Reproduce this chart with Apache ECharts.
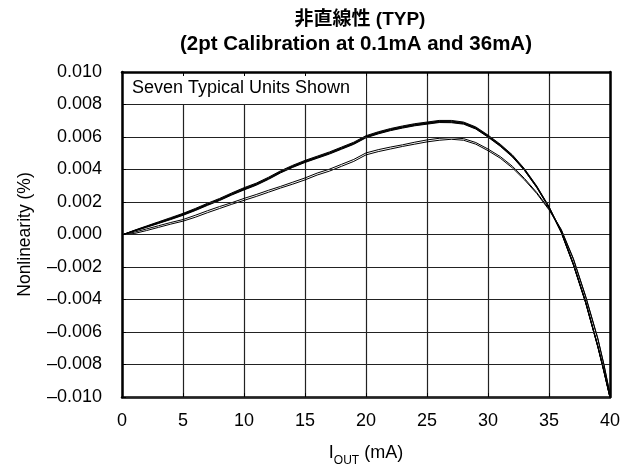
<!DOCTYPE html>
<html>
<head>
<meta charset="utf-8">
<script src="https://cdn.jsdelivr.net/npm/echarts@6/dist/echarts.min.js"></script>
<style>
  html, body { margin: 0; padding: 0; background: #fff; }
  #chart { width: 623px; height: 472px; }
</style>
</head>
<body>
<div id="chart"></div>
<script>
// Output current (mA) at which each unit was measured
const currentMA = [0.1, 1, 2, 3, 4, 5, 6, 7, 8, 9, 10,
  11, 12, 13, 14, 15, 16, 17, 18, 19, 20,
  21, 22, 23, 24, 25, 26, 27, 28, 29, 30,
  31, 32, 33, 34, 35, 36, 37, 38, 39, 39.5, 40];

// Nonlinearity of each unit, in units of 0.001 %
const unitA = [0, 0.26, 0.52, 0.78, 1.04, 1.30, 1.60, 1.92, 2.22, 2.56, 2.88,
  3.16, 3.52, 3.92, 4.26, 4.56, 4.82, 5.08, 5.38, 5.68, 6.08,
  6.32, 6.52, 6.68, 6.82, 6.92, 7.02, 7.02, 6.92, 6.62, 6.12,
  5.56, 4.90, 4.04, 2.98, 1.72, 0.20, -1.80, -4.12, -6.84, -8.36, -10.00];
const unitB = [0, 0.24, 0.50, 0.75, 1.00, 1.27, 1.56, 1.88, 2.18, 2.52, 2.84,
  3.12, 3.48, 3.88, 4.22, 4.52, 4.78, 5.04, 5.34, 5.64, 6.04,
  6.28, 6.48, 6.64, 6.78, 6.88, 6.98, 6.98, 6.88, 6.58, 6.08,
  5.52, 4.86, 4.00, 2.95, 1.70, 0.18, -1.82, -4.14, -6.86, -8.38, -10.00];
const unitC = [0, 0.23, 0.48, 0.72, 0.97, 1.24, 1.53, 1.85, 2.15, 2.49, 2.80,
  3.09, 3.45, 3.85, 4.19, 4.49, 4.75, 5.01, 5.31, 5.61, 6.01,
  6.25, 6.45, 6.61, 6.75, 6.85, 6.95, 6.94, 6.85, 6.55, 6.05,
  5.49, 4.83, 3.98, 2.93, 1.68, 0.16, -1.84, -4.16, -6.88, -8.40, -10.02];
const unitD = [0, 0.22, 0.46, 0.70, 0.95, 1.21, 1.50, 1.82, 2.12, 2.46, 2.77,
  3.06, 3.42, 3.82, 4.16, 4.46, 4.72, 4.98, 5.28, 5.58, 5.98,
  6.22, 6.42, 6.58, 6.72, 6.82, 6.92, 6.91, 6.82, 6.52, 6.02,
  5.46, 4.80, 3.95, 2.90, 1.66, 0.14, -1.86, -4.18, -6.90, -8.42, -10.04];
const unitE = [0, 0.21, 0.44, 0.68, 0.92, 1.18, 1.47, 1.79, 2.09, 2.43, 2.74,
  3.03, 3.39, 3.79, 4.13, 4.43, 4.69, 4.95, 5.25, 5.55, 5.95,
  6.19, 6.39, 6.55, 6.69, 6.79, 6.89, 6.88, 6.79, 6.49, 5.99,
  5.43, 4.77, 3.93, 2.88, 1.64, 0.12, -1.88, -4.20, -6.92, -8.44, -10.05];
const unitF = [0, 0.14, 0.34, 0.54, 0.74, 0.92, 1.18, 1.46, 1.72, 1.96, 2.22,
  2.46, 2.72, 2.96, 3.22, 3.48, 3.78, 4.02, 4.32, 4.62, 5.02,
  5.22, 5.38, 5.52, 5.68, 5.82, 5.92, 5.96, 5.90, 5.66, 5.26,
  4.80, 4.20, 3.44, 2.58, 1.58, 0.32, -1.48, -3.78, -6.38, -7.98, -9.80];
const unitG = [0, 0.06, 0.24, 0.44, 0.64, 0.82, 1.06, 1.34, 1.60, 1.86, 2.10,
  2.34, 2.60, 2.86, 3.10, 3.36, 3.66, 3.90, 4.20, 4.50, 4.90,
  5.10, 5.26, 5.42, 5.56, 5.70, 5.80, 5.86, 5.80, 5.56, 5.16,
  4.70, 4.10, 3.36, 2.52, 1.52, 0.28, -1.52, -3.82, -6.42, -8.02, -9.84];

const units = [unitA, unitB, unitC, unitD, unitE, unitF, unitG];

// Axis tick labels
const xTickLabels = ['0', '5', '10', '15', '20', '25', '30', '35', '40'];
const yTickLabels = ['\u20130.010', '\u20130.008', '\u20130.006', '\u20130.004', '\u20130.002',
  '0.000', '0.002', '0.004', '0.006', '0.008', '0.010'];

const FONT = '"Liberation Sans", Arial, Helvetica, sans-serif';
const frame = { show: true, onZero: false, lineStyle: { color: '#000', width: 2.5 } };
const grid = { type: 'solid', color: '#222', width: 1.2 };

const series = units.map((u, i) => ({
  type: 'line',
  name: 'unit' + i,
  data: currentMA.map((x, k) => [x, u[k]]),
  showSymbol: false,
  symbol: 'none',
  lineStyle: { color: '#000', width: 1 },
  z: 3,
  animation: false
}));

// White caption box in the top-left cell block
series.push({
  type: 'line',
  data: [],
  markArea: {
    silent: true,
    itemStyle: { color: '#fff' },
    label: {
      show: true,
      position: 'insideLeft',
      distance: 10,
      color: '#000',
      fontFamily: FONT,
      fontSize: 18,
      formatter: 'Seven Typical Units Shown'
    },
    data: [[{ coord: [0, 8] }, { coord: [20, 10] }]]
  },
  z: 2,
  animation: false
});

const chart = echarts.init(document.getElementById('chart'), null, { renderer: 'canvas' });
chart.setOption({
  animation: false,
  backgroundColor: '#fff',
  grid: { left: 122, right: 13, top: 72, bottom: 69, containLabel: false },
  xAxis: [{
    type: 'value', min: 0, max: 40, interval: 5, position: 'bottom',
    axisLine: frame,
    axisTick: { show: true, inside: true, length: 4, lineStyle: { color: '#000' } },
    splitLine: { show: true, lineStyle: grid },
    axisLabel: {
      margin: 15, color: '#000', fontFamily: FONT, fontSize: 18,
      formatter: v => xTickLabels[Math.round(v / 5)]
    },
    name: '{m|I}{s|OUT}{m| (mA)}',
    nameLocation: 'middle',
    nameGap: 43,
    nameTextStyle: {
      rich: {
        m: { fontFamily: FONT, fontSize: 18, color: '#000', lineHeight: 22, verticalAlign: 'bottom' },
        s: { fontFamily: FONT, fontSize: 12, color: '#000', lineHeight: 22, verticalAlign: 'bottom', padding: [0, 0, -5, 0] }
      }
    },
    z: 0
  }, {
    type: 'value', min: 0, max: 40, interval: 5, position: 'top',
    axisLine: frame,
    axisTick: { show: true, inside: true, length: 4, lineStyle: { color: '#000' } },
    splitLine: { show: false },
    axisLabel: { show: false },
    z: 10
  }],
  yAxis: [{
    type: 'value', min: -10, max: 10, interval: 2, position: 'left',
    axisLine: frame,
    axisTick: { show: true, inside: true, length: 4, lineStyle: { color: '#000' } },
    splitLine: { show: true, lineStyle: grid },
    axisLabel: {
      margin: 20, color: '#000', fontFamily: FONT, fontSize: 18,
      formatter: v => yTickLabels[Math.round((v + 10) / 2)]
    },
    name: 'Nonlinearity (%)',
    nameLocation: 'middle',
    nameGap: 88,
    nameTextStyle: { fontFamily: FONT, fontSize: 17.5, color: '#000' },
    z: 10
  }, {
    type: 'value', min: -10, max: 10, interval: 2, position: 'right',
    axisLine: frame,
    axisTick: { show: false },
    splitLine: { show: false },
    axisLabel: { show: false },
    z: 10
  }],
  graphic: [{
    type: 'text', left: null, x: 360, y: 20,
    style: {
      text: '非直線性 (TYP)',
      font: 'bold 19px "Liberation Sans", "Noto Sans CJK JP", sans-serif',
      fill: '#000', textAlign: 'center', textVerticalAlign: 'middle'
    }
  }, {
    type: 'text', x: 356, y: 44,
    style: {
      text: '(2pt Calibration at 0.1mA and 36mA)',
      font: 'bold 20.5px "Liberation Sans", Arial, sans-serif',
      fill: '#000', textAlign: 'center', textVerticalAlign: 'middle'
    }
  }],
  series: series
});
</script>
</body>
</html>
